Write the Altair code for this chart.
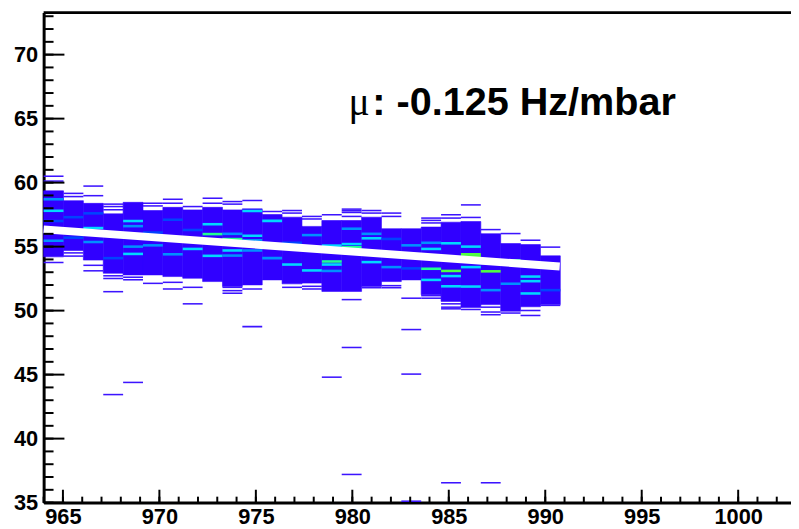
import altair as alt
import pandas as pd
import numpy as np

# ---------------- data ----------------
x_start = 964.0
bin_w = 1.03
n_cols = 26

# dense band (top / bottom) of each x column
band_hi = [59.36, 58.59, 58.38, 57.56, 58.46, 57.82, 58.07, 57.87, 58.07, 57.87,
           57.95, 57.51, 57.30, 56.58, 57.04, 57.04, 57.30, 56.40, 56.40, 56.53,
           56.91, 56.96, 56.01, 55.24, 55.16, 54.28]
band_lo = [54.20, 54.70, 53.95, 52.92, 52.79, 52.79, 52.66, 52.53, 52.27, 51.89,
           52.01, 52.40, 52.09, 52.15, 51.50, 51.50, 51.89, 52.27, 52.40, 51.24,
           50.72, 50.25, 50.47, 49.95, 50.30, 50.47]

# isolated single-entry cells (column index, y)
sparse_col = [0, 0, 0,
              1, 1, 1, 1,
              2, 2, 2, 2,
              3, 3, 3, 3, 3, 3, 3,
              4, 4, 4,
              5, 5, 5,
              6, 6, 6, 6,
              7, 7, 7,
              8, 8,
              9, 9, 9, 9, 9,
              10, 10, 10,
              11,
              12, 12, 12,
              13, 13, 13, 13,
              14, 14,
              15, 15, 15, 15, 15, 15, 15,
              16, 16, 16,
              17, 17, 17, 17,
              18, 18, 18, 18,
              19, 19, 19, 19, 19,
              20, 20, 20, 20, 20, 20,
              21, 21, 21,
              22, 22, 22, 22, 22,
              23, 23,
              24, 24, 24,
              25, 25]
sparse_y = [60.44, 60.06, 53.70,
            59.10, 58.85, 54.45, 54.20,
            59.67, 58.92, 53.48, 53.05,
            58.26, 58.07, 57.82, 52.66, 52.45, 51.42, 43.38,
            52.55, 52.35, 44.33,
            58.33, 58.12, 52.07,
            58.64, 58.33, 52.15, 51.63,
            58.07, 51.76, 50.47,
            58.72, 58.33,
            58.46, 58.26, 51.76, 51.50, 51.30,
            58.54, 51.63, 48.69,
            57.69,
            57.76, 57.56, 51.76,
            57.30, 57.10, 51.84, 51.63,
            57.43, 44.74,
            57.87, 57.74, 57.61, 57.30, 50.80, 47.06, 37.14,
            57.76, 57.56, 51.73,
            57.56, 57.30, 51.89, 51.73,
            50.91, 48.46, 44.98, 35.05,
            57.17, 56.99, 56.79, 51.11, 50.91,
            57.43, 57.17, 50.47, 50.21, 50.08, 36.49,
            58.20, 57.22, 50.03,
            56.27, 50.21, 49.83, 49.62, 36.49,
            55.96, 49.75,
            55.44, 49.95, 49.56,
            54.90, 50.35]

# higher-count cells (column index, y, colour level)
hot_col = [0, 0, 0, 0, 1, 1, 2, 2, 2, 3, 3, 4, 4, 4, 4, 5, 5, 6, 6, 7, 7,
           8, 8, 8, 9, 9, 9, 9, 10, 10, 10, 10, 11, 11, 12, 12, 13, 13,
           14, 14, 14, 14, 15, 15, 15, 16, 16, 16, 17, 17, 18, 18,
           19, 19, 19, 19, 20, 20, 20, 20, 21, 21, 21, 21, 21,
           22, 22, 22, 23, 23, 24, 24, 24, 25]
hot_y = [57.70, 58.60, 55.36, 56.90, 57.20, 55.60, 56.35, 55.26, 57.50, 55.80, 54.00,
         56.90, 56.50, 54.33, 54.90, 56.00, 55.00, 57.00, 54.30, 54.72, 56.20,
         56.65, 55.88, 54.18, 55.49, 55.90, 54.60, 54.20, 57.68, 55.75, 55.40, 54.60,
         56.91, 54.00, 53.50, 55.20, 53.04, 55.80,
         53.74, 53.50, 53.00, 54.98, 54.85, 55.10, 56.30, 55.55, 55.90, 53.69,
         53.30, 55.50, 55.00, 53.20,
         54.72, 53.17, 52.30, 55.20, 55.16, 53.00, 52.60, 51.80,
         54.14, 54.30, 54.90, 51.78, 53.30,
         52.97, 53.60, 51.50, 53.82, 52.00, 52.56, 52.20, 51.24, 51.50]
hot_level = [5, 4, 4, 3, 3, 3, 5, 4, 3, 4, 3, 5, 4, 5, 4, 3, 4, 3, 4, 5, 3,
             5, 6, 5, 6, 4, 5, 4, 5, 5, 4, 4, 5, 4, 5, 3, 5, 4,
             6, 5, 4, 5, 6, 5, 4, 5, 4, 5, 4, 3, 4, 3,
             5, 6, 5, 4, 5, 7, 5, 5, 7, 7, 5, 5, 5,
             7, 4, 4, 6, 4, 5, 5, 5, 3]

# fitted line
fit_x = [964.0, 990.75]
fit_y = [56.35, 53.45]

# axis ticks
x_major = [965, 970, 975, 980, 985, 990, 995, 1000]
x_minor = list(range(964, 1003))
y_major = [35, 40, 45, 50, 55, 60, 65, 70]
y_minor = list(range(35, 74))

level_dom = [1, 2, 3, 4, 5, 6, 7]
level_col = ["#3c14ff", "#3000ff", "#0044ff", "#0090ff", "#00d8ff", "#20ff90", "#50ff40"]

# ---------------- tables ----------------
cols = np.arange(n_cols)
band = pd.DataFrame({
    "x": x_start + cols * bin_w, "x2": x_start + (cols + 1) * bin_w,
    "y": band_lo, "y2": band_hi, "level": 2})
sp = pd.DataFrame({"c": sparse_col, "y": sparse_y})
sp["x"] = x_start + sp["c"] * bin_w
sp["x2"] = sp["x"] + bin_w
sp["y2"] = sp["y"] + 0.12
sp["level"] = 1
hot = pd.DataFrame({"c": hot_col, "y": hot_y, "level": hot_level})
hot["x"] = x_start + hot["c"] * bin_w
hot["x2"] = hot["x"] + bin_w
hot["y2"] = hot["y"] + 0.2
cells = pd.concat([sp, hot], ignore_index=True)

fit = pd.DataFrame({"x": fit_x, "y": fit_y})

W, H = 755, 495
xs = alt.Scale(domain=[964.0, 964.0 + W / 19.49], nice=False, zero=False)
ys = alt.Scale(domain=[35.0, 35.0 + H / 12.93], nice=False, zero=False)
cs = alt.Scale(domain=level_dom, range=level_col)

lab = dict(labelFont="Liberation Sans", labelFontWeight="bold", labelFontSize=22,
           labelColor="black", ticks=False, tickSize=0, grid=False,
           domain=True, domainColor="black", domainWidth=3, title=None)
ax_x = alt.Axis(values=x_major, format="d", labelPadding=4, **lab)
ax_y = alt.Axis(values=y_major, format="d", labelPadding=6, **lab)


def X(f):
    return alt.X(f, scale=xs, axis=ax_x, title=None)


def Y(f):
    return alt.Y(f, scale=ys, axis=ax_y, title=None)


band_l = alt.Chart(band).mark_rect(strokeWidth=0.6).encode(
    x=X("x:Q"), x2="x2:Q", y=Y("y:Q"), y2="y2:Q",
    color=alt.Color("level:O", scale=cs, legend=None),
    stroke=alt.Stroke("level:O", scale=cs, legend=None),
)
cell_l = alt.Chart(cells).mark_rect().encode(
    x=X("x:Q"), x2="x2:Q", y=Y("y:Q"), y2="y2:Q",
    color=alt.Color("level:O", scale=cs, legend=None),
)
fit_l = alt.Chart(fit).mark_line(color="white", strokeWidth=8).encode(
    x=X("x:Q"), y=Y("y:Q"))

ymaj = alt.Chart(pd.DataFrame({"v": y_major})).mark_rule(color="black", strokeWidth=2).encode(
    y=Y("v:Q"), x=alt.value(0), x2=alt.value(21))
ymin = alt.Chart(pd.DataFrame({"v": y_minor})).mark_rule(color="black", strokeWidth=2).encode(
    y=Y("v:Q"), x=alt.value(0), x2=alt.value(10))
xmaj = alt.Chart(pd.DataFrame({"v": x_major})).mark_rule(color="black", strokeWidth=2).encode(
    x=X("v:Q"), y=alt.value(H), y2=alt.value(H - 13))
xmin = alt.Chart(pd.DataFrame({"v": x_minor})).mark_rule(color="black", strokeWidth=2).encode(
    x=X("v:Q"), y=alt.value(H), y2=alt.value(H - 6))
top = alt.Chart(pd.DataFrame({"d": [0]})).mark_rule(color="black", strokeWidth=3).encode(
    x=alt.value(0), x2=alt.value(W), y=alt.value(0))

mu = alt.Chart(pd.DataFrame({"t": ["μ"]})).mark_text(
    font="Liberation Serif", fontSize=40, align="left", baseline="alphabetic", color="black"
).encode(text="t:N", x=alt.value(308), y=alt.value(103))
rest = alt.Chart(pd.DataFrame({"t": [": -0.125 Hz/mbar"]})).mark_text(
    font="Liberation Sans", fontWeight="bold", fontSize=40, align="left",
    baseline="alphabetic", color="black"
).encode(text="t:N", x=alt.value(332), y=alt.value(103))

chart = alt.layer(band_l, cell_l, fit_l, ymin, ymaj, xmin, xmaj, top, mu, rest).properties(
    width=W, height=H,
    autosize=alt.AutoSizeParams(type="none"),
    padding={"left": 36, "top": 2, "right": 0, "bottom": 24},
    background="white",
).configure_view(stroke=None)

chart.save("out.html", embed_options={"renderer": "svg", "actions": False})
